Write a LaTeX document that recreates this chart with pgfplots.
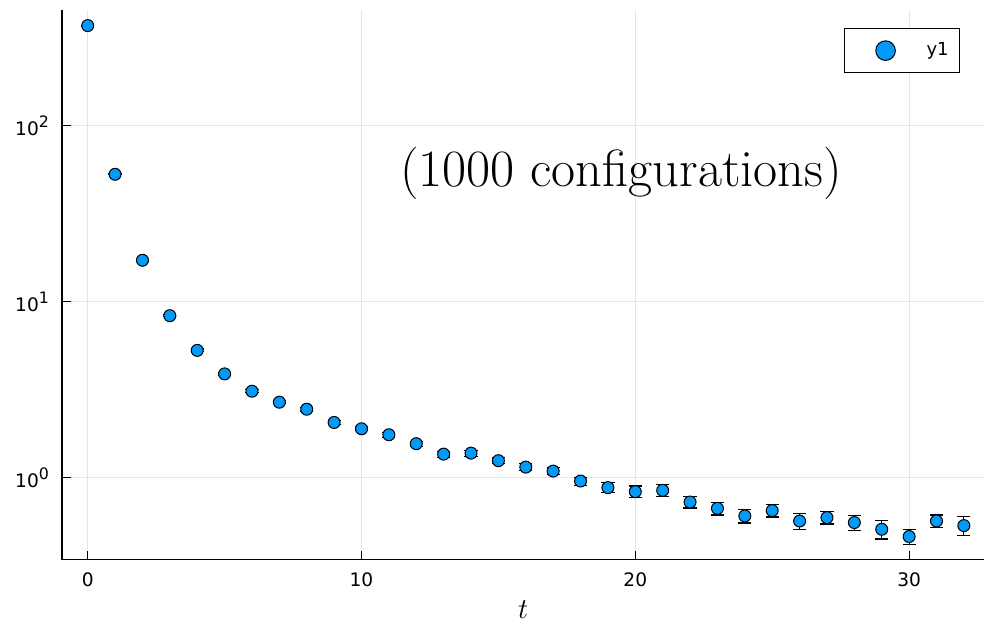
\documentclass[border=0pt]{standalone}
\usepackage{fontspec}
\newfontfamily\djv{DejaVu Sans}
\usepackage{pgfplots}
\usepackage{pgfplotstable}
\pgfplotsset{compat=1.18}
\definecolor{pblue}{RGB}{0,154,250}
\newcommand{\pw}[1]{10\raisebox{4.2pt}{\fontsize{7.9}{9}\selectfont #1}}

\pgfplotstableread{
t y e
0 371 2.4
1 53 0.35
2 17.2 0.22
3 8.33 0.11
4 5.29 0.10
5 3.89 0.076
6 3.10 0.061
7 2.685 0.053
8 2.449 0.064
9 2.06 0.054
10 1.897 0.049
11 1.754 0.058
12 1.56 0.051
13 1.361 0.053
14 1.379 0.054
15 1.249 0.049
16 1.148 0.053
17 1.090 0.050
18 0.957 0.050
19 0.878 0.057
20 0.833 0.063
21 0.847 0.063
22 0.727 0.055
23 0.669 0.055
24 0.606 0.054
25 0.650 0.053
26 0.567 0.061
27 0.593 0.048
28 0.556 0.054
29 0.509 0.061
30 0.463 0.045
31 0.567 0.047
32 0.534 0.066
}\datatable

\begin{document}
\begin{tikzpicture}
\begin{axis}[
  scale only axis,
  width=461.5pt, height=275pt,
  ymode=log,
  xmin=-0.94, xmax=32.75,
  ymin=0.342, ymax=455,
  axis lines=left,
  axis line style={-, line width=0.6pt, black},
  xtick={0,10,20,30},
  ytick={1,10,100},
  yticklabels={\pw{0},\pw{1},\pw{2}},
  tick label style={font=\djv\fontsize{9.3}{11}\selectfont},
  xticklabel style={yshift=-3pt},
  yticklabel style={xshift=-3pt},
  /pgf/number format/assume math mode=true,
  major tick length=4.5pt,
  minor tick length=0pt,
  tick align=inside,
  tick style={black, line width=0.6pt},
  grid=major,
  grid style={black!10, line width=0.5pt},
  xlabel={$t$},
  xlabel style={font=\fontsize{14}{16}\selectfont},
  legend style={at={(0.9737,0.967)}, anchor=north east, draw=black,
    line width=0.5pt, font=\djv\fontsize{9}{11}\selectfont,
    inner sep=0pt, nodes={inner sep=0pt, draw=none}, cells={anchor=center}},
  legend image code/.code={%
    \path[draw=none, fill=none] (0pt,-11pt) rectangle (41pt,11pt);
    \draw[#1, mark size=4.9pt] plot coordinates {(20.5pt,0pt)};},
]
\addplot+[
  only marks,
  mark=*,
  mark size=3pt,
  mark options={fill=pblue, draw=black, line width=0.5pt},
  error bars/.cd,
    y dir=both, y explicit,
    error bar style={black, line width=0.6pt},
    error mark options={black, line width=0.6pt, mark size=3.3pt, rotate=90},
] table[x=t, y=y, y error=e] {\datatable};
\addlegendentry{y1\kern5.5pt\null}
\node[anchor=base, font=\fontsize{26.2}{30}\selectfont] at (axis cs:19.48,44.9) {(1000 configurations)};
\end{axis}
\path (current axis.south west) ++(-31pt,-31pt) coordinate (bbA);
\path (current axis.north east) ++(0pt,5pt) coordinate (bbB);
\path (bbA) rectangle (bbB);
\end{tikzpicture}
\end{document}
